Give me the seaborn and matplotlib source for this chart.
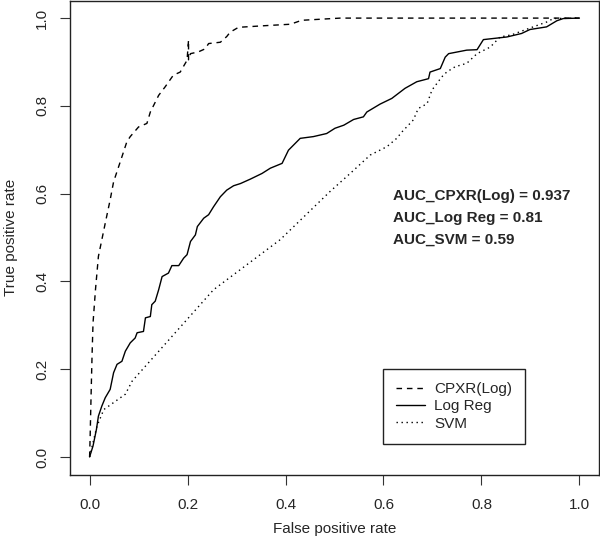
import matplotlib
matplotlib.use("Agg")
import matplotlib.pyplot as plt
import seaborn as sns
import pandas as pd

# ---- data ----
cpxr_fpr = [0.0, 0.001, 0.003, 0.005, 0.007, 0.012, 0.018, 0.032, 0.042, 0.049, 0.066, 0.076,
            0.083, 0.100, 0.117, 0.124, 0.141, 0.154, 0.171, 0.185, 0.199, 0.202, 0.202, 0.206,
            0.222, 0.236, 0.243, 0.267, 0.280, 0.287, 0.304, 0.362, 0.410, 0.433, 0.512, 1.0]
cpxr_tpr = [0.0, 0.040, 0.139, 0.230, 0.305, 0.381, 0.457, 0.533, 0.586, 0.627, 0.684, 0.718,
            0.730, 0.752, 0.760, 0.786, 0.824, 0.843, 0.870, 0.877, 0.904, 0.950, 0.905, 0.919,
            0.923, 0.930, 0.942, 0.945, 0.958, 0.968, 0.979, 0.983, 0.986, 0.995, 1.0, 1.0]

logreg_fpr = [0.0, 0.007, 0.014, 0.018, 0.025, 0.032, 0.042, 0.049, 0.056, 0.066, 0.073, 0.083,
              0.093, 0.097, 0.110, 0.114, 0.124, 0.127, 0.134, 0.141, 0.148, 0.161, 0.168, 0.182,
              0.192, 0.199, 0.206, 0.216, 0.220, 0.233, 0.243, 0.253, 0.267, 0.280, 0.294, 0.308,
              0.328, 0.352, 0.369, 0.393, 0.406, 0.430, 0.457, 0.484, 0.501, 0.519, 0.539, 0.559,
              0.566, 0.593, 0.617, 0.644, 0.668, 0.692, 0.695, 0.716, 0.726, 0.733, 0.770, 0.791,
              0.804, 0.852, 0.882, 0.899, 0.933, 0.954, 0.967, 1.0]
logreg_tpr = [0.0, 0.025, 0.063, 0.093, 0.116, 0.135, 0.154, 0.192, 0.211, 0.218, 0.241, 0.260,
              0.271, 0.283, 0.286, 0.317, 0.320, 0.347, 0.355, 0.381, 0.411, 0.419, 0.436, 0.436,
              0.453, 0.461, 0.491, 0.506, 0.525, 0.544, 0.552, 0.570, 0.593, 0.608, 0.618, 0.623,
              0.633, 0.646, 0.658, 0.669, 0.699, 0.726, 0.730, 0.737, 0.749, 0.756, 0.769, 0.775,
              0.786, 0.804, 0.817, 0.840, 0.855, 0.862, 0.877, 0.885, 0.911, 0.919, 0.927, 0.928,
              0.951, 0.957, 0.965, 0.974, 0.980, 0.994, 0.999, 1.0]

svm_fpr = [0.0, 0.015, 0.029, 0.073, 0.087, 0.253, 0.389, 0.491, 0.532, 0.573, 0.607, 0.627,
           0.638, 0.661, 0.671, 0.689, 0.699, 0.719, 0.729, 0.746, 0.770, 0.791, 0.818, 0.838,
           0.862, 0.886, 0.913, 0.933, 0.947, 1.0]
svm_tpr = [0.0, 0.070, 0.108, 0.143, 0.173, 0.381, 0.495, 0.605, 0.646, 0.688, 0.707, 0.726,
           0.741, 0.768, 0.794, 0.805, 0.836, 0.866, 0.877, 0.889, 0.897, 0.919, 0.934, 0.957,
           0.962, 0.972, 0.983, 0.991, 0.999, 1.0]

series_names = ["CPXR(Log)", "Log Reg", "SVM"]
auc_labels = ["AUC_CPXR(Log) = 0.937", "AUC_Log Reg = 0.81", "AUC_SVM = 0.59"]
xticks = [0.0, 0.2, 0.4, 0.6, 0.8, 1.0]
yticks = [0.0, 0.2, 0.4, 0.6, 0.8, 1.0]

# ---- styling ----
sns.set_style("white")
plt.rcParams["font.family"] = ["Liberation Sans", "DejaVu Sans"]

fig = plt.figure(figsize=(6.0, 5.48), dpi=100)
ax = fig.add_axes([70 / 600, 1 - 474.5 / 548, 529 / 600, 474.5 / 548 - 0.001])

styles = [(0, (4, 3.5)), "-", (0, (1, 2.6))]
datas = [(cpxr_fpr, cpxr_tpr), (logreg_fpr, logreg_tpr), (svm_fpr, svm_tpr)]
for (fx, ty), name, ls in zip(datas, series_names, styles):
    df = pd.DataFrame({"fpr": fx, "tpr": ty})
    sns.lineplot(data=df, x="fpr", y="tpr", ax=ax, sort=False, estimator=None,
                 color="black", linewidth=1.0, linestyle=ls, label=name)

ax.set_xlim(-0.04, 1.04)
ax.set_ylim(-0.04, 1.04)
ax.set_xticks(xticks)
ax.set_yticks(yticks)
ax.set_xticklabels([f"{v:.1f}" for v in xticks], fontsize=11)
ax.set_yticklabels([f"{v:.1f}" for v in yticks], fontsize=11, rotation=90, va="center")
ax.tick_params(axis="x", direction="out", length=7, width=0.8, color="#333333",
               bottom=True, pad=10)
ax.tick_params(axis="y", direction="out", length=7, width=0.8, color="#333333",
               left=True, pad=8)
ax.set_xlabel("False positive rate", fontsize=11, labelpad=7)
ax.set_ylabel("True positive rate", fontsize=11, labelpad=12)
for sp in ax.spines.values():
    sp.set_visible(True)
    sp.set_color("#222222")
    sp.set_linewidth(1.0)

# AUC annotations
for i, txt in enumerate(auc_labels):
    ax.text(0.62, 0.595 - i * 0.0495, txt, fontsize=11, fontweight="bold",
            transform=ax.transData, ha="left", va="center")

leg = ax.legend(loc="upper left", bbox_to_anchor=((383.3 - 70) / 529, 1 - 369 / 474.5),
                frameon=True, fancybox=False, edgecolor="#222222", framealpha=1,
                fontsize=11, handlelength=1.9, handletextpad=0.6, labelspacing=0.22,
                borderpad=0.85, borderaxespad=0)
leg.get_frame().set_linewidth(1.0)

fig.savefig("out.png", dpi=100)
